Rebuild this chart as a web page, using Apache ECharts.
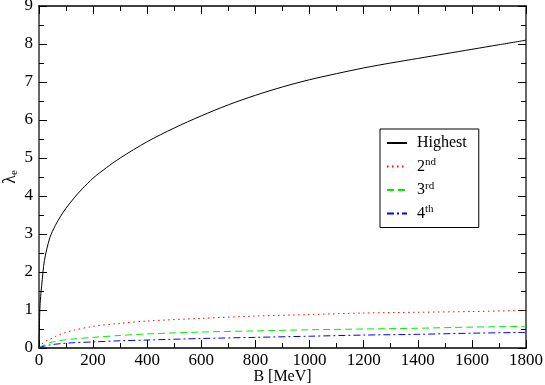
<!DOCTYPE html>
<html>
<head>
<meta charset="utf-8">
<script src="https://cdn.jsdelivr.net/npm/echarts@6/dist/echarts.min.js"></script>
<style>
  html, body { margin: 0; padding: 0; background: #fff; }
  #chart { width: 545px; height: 385px; }
</style>
</head>
<body>
<div id="chart"></div>
<script>
// B in MeV
const bHighest = [0, 3, 6, 10, 20, 40, 60, 80, 100, 130, 160, 200, 250, 300, 400, 500, 600, 700, 800, 900, 1000, 1100, 1200, 1300, 1400, 1500, 1600, 1700, 1800];
const highest = [0, 1.0, 1.35, 1.65, 2.3, 2.9, 3.22, 3.47, 3.68, 3.95, 4.19, 4.47, 4.75, 5.0, 5.43, 5.79, 6.11, 6.4, 6.65, 6.87, 7.06, 7.22, 7.37, 7.5, 7.62, 7.74, 7.86, 7.98, 8.1];

const bLower = [0, 3, 10, 20, 40, 60, 90, 130, 200, 300, 400, 600, 800, 1000, 1200, 1400, 1600, 1800];
const second = [0, 0.04, 0.1, 0.16, 0.23, 0.3, 0.39, 0.47, 0.57, 0.65, 0.71, 0.78, 0.84, 0.88, 0.92, 0.94, 0.96, 0.99];
const third = [0, 0.02, 0.05, 0.08, 0.14, 0.17, 0.21, 0.24, 0.28, 0.33, 0.37, 0.42, 0.45, 0.48, 0.5, 0.52, 0.55, 0.57];
const fourth = [0, 0.01, 0.03, 0.05, 0.08, 0.1, 0.12, 0.14, 0.16, 0.19, 0.21, 0.25, 0.28, 0.31, 0.34, 0.36, 0.39, 0.41];

const xTicks = { min: 0, max: 1800, interval: 200 };
const yTicks = { min: 0, max: 9, interval: 1 };

const font = 'Liberation Serif';
const pairs = (xs, ys) => xs.map((x, i) => [x, ys[i]]);

const lineSeries = (name, xs, ys, color, type) => ({
    name: name,
    type: 'line',
    data: pairs(xs, ys),
    showSymbol: false,
    symbol: 'none',
    smooth: 0.3,
    lineStyle: { color: color, width: 1, type: type },
    itemStyle: { color: color },
    xAxisIndex: 0,
    yAxisIndex: 0
});

// frame axes: ticks inside, minor ticks halfway
const frameAxis = (extra) => Object.assign({
    type: 'value',
    axisLine: { show: true, onZero: false, lineStyle: { color: '#000', width: 1.5 } },
    axisTick: { show: true, inside: true, length: 8, lineStyle: { color: '#000' } },
    minorTick: { show: true, splitNumber: 2, length: 5, lineStyle: { color: '#000' } },
    splitLine: { show: false },
    minorSplitLine: { show: false }
}, extra);

const chart = echarts.init(document.getElementById('chart'), null, { renderer: 'canvas' });

const option = {
    backgroundColor: '#fff',
    animation: false,
    textStyle: { fontFamily: font },
    grid: { left: 39, right: 19, top: 6, bottom: 37, containLabel: false, outerBoundsMode: 'none' },
    xAxis: [
        frameAxis(Object.assign({}, xTicks, {
            position: 'bottom',
            name: 'B [MeV]',
            nameLocation: 'middle',
            nameGap: 21,
            nameMoveOverlap: false,
            nameTextStyle: { fontFamily: font, fontSize: 16, color: '#000' },
            axisLabel: { fontFamily: font, fontSize: 17, color: '#000', margin: 4, formatter: v => String(v) }
        })),
        frameAxis(Object.assign({}, xTicks, {
            position: 'top',
            axisLabel: { show: false }
        }))
    ],
    yAxis: [
        frameAxis(Object.assign({}, yTicks, {
            position: 'left',
            name: '{l|λ}{s|e}',
            nameLocation: 'middle',
            nameGap: 19,
            nameMoveOverlap: false,
            nameRotate: 90,
            nameTextStyle: {
                rich: {
                    l: { fontFamily: font, fontSize: 18, color: '#000' },
                    s: { fontFamily: font, fontSize: 11, color: '#000', padding: [8, 0, 0, 0] }
                }
            },
            axisLine: { show: true, onZero: false, lineStyle: { color: '#666', width: 2 } },
            axisLabel: { fontFamily: font, fontSize: 17, color: '#000', margin: 6, formatter: v => String(v) }
        })),
        frameAxis(Object.assign({}, yTicks, {
            position: 'right',
            axisLine: { show: true, onZero: false, lineStyle: { color: '#666', width: 2 } },
            axisLabel: { show: false }
        }))
    ],
    legend: {
        orient: 'vertical',
        left: 380,
        top: 129,
        width: 92,
        padding: [6, 12, 6, 6],
        itemGap: 6,
        itemWidth: 20,
        itemHeight: 16,
        borderColor: '#000',
        borderWidth: 1,
        borderRadius: 0,
        backgroundColor: '#fff',
        itemStyle: { opacity: 0 },
        lineStyle: { opacity: 1 },
        data: ['Highest', '2nd', '3rd', '4th'],
        formatter: name => name === 'Highest' ? '{n|Highest}' : '{n|' + name[0] + '}{s|' + name.slice(1) + '}',
        textStyle: {
            fontFamily: font,
            fontSize: 16,
            color: '#000',
            padding: [0, 0, 0, 5],
            rich: {
                n: { fontFamily: font, fontSize: 16, color: '#000' },
                s: { fontFamily: font, fontSize: 11, color: '#000', padding: [0, 0, 8, 0] }
            }
        }
    },
    series: [
        lineSeries('Highest', bHighest, highest, '#000000', 'solid'),
        lineSeries('2nd', bLower, second, '#ff0000', [1.5, 3.5]),
        lineSeries('3rd', bLower, third, '#00ee00', [7, 4]),
        lineSeries('4th', bLower, fourth, '#0000ff', [7, 3, 2, 3])
    ]
};

chart.setOption(option);
</script>
</body>
</html>
